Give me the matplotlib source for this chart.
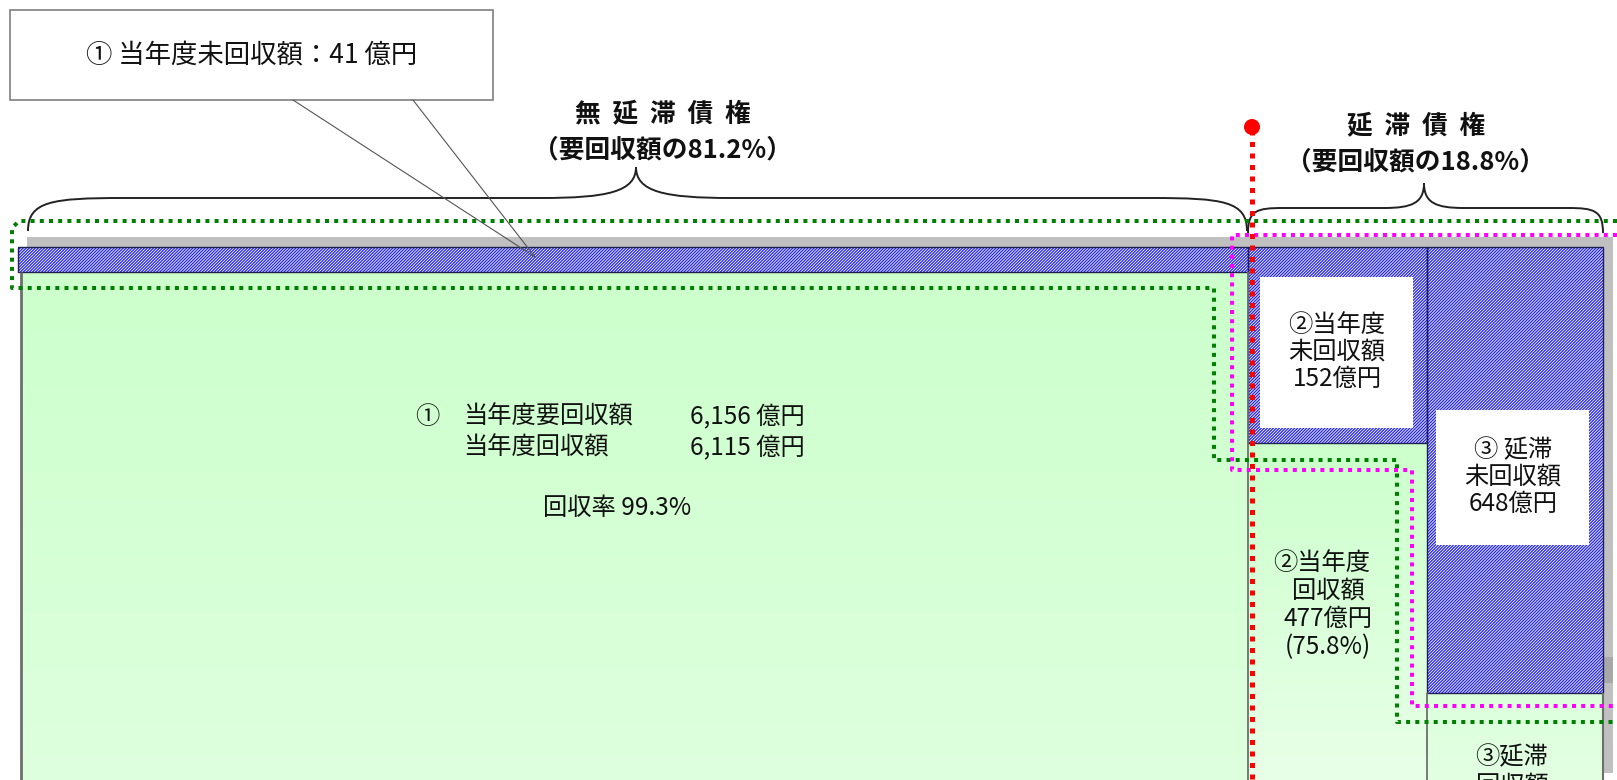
import numpy as np
import matplotlib
matplotlib.use("Agg")
import matplotlib.pyplot as plt
from matplotlib.patches import Rectangle, Circle, PathPatch, Polygon
from matplotlib.path import Path

plt.rcParams['font.family'] = ['Noto Sans CJK JP', 'DejaVu Sans']
plt.rcParams['hatch.linewidth'] = 0.6

# ---- values (億円, %) ----
section_names = ["無延滞債権", "延滞債権"]
section_shares = [81.2, 18.8]                 # share of amount due
current_due = [6156, None]                     # 当年度要回収額
current_collected = [6115, 477]                # 当年度回収額
current_uncollected = [41, 152]                # 当年度未回収額
current_rates = [99.3, 75.8]                   # 回収率
arrears_uncollected = [648]                    # 延滞 未回収額

# ---- colours ----
BLUE = '#2424f0'
GREEN_TOP = (204 / 255, 1.0, 204 / 255)
DOT_GREEN = '#008000'
MAGENTA = '#ff00ff'
RED = '#ff0000'
SHADOW = '#c0c0c0'
EDGE = '#6e6e6e'

W, H = 1617, 780
fig = plt.figure(figsize=(W / 100, H / 100), dpi=100)
ax = fig.add_axes([0, 0, 1, 1])
ax.set_axis_off()


def gradient_rect(x0, y0, x1, y1, c_top, c_bot, z=1):
    t = np.linspace(0, 1, 256)[:, None]
    rgb = (1 - t) * np.array(c_top) + t * np.array(c_bot)
    img = np.repeat(rgb[:, None, :], 2, axis=1)
    ax.imshow(img, extent=(x0, x1, y1, y0), aspect='auto',
              interpolation='bilinear', zorder=z)


def hatched(xy, z=3):
    ax.add_patch(Polygon(xy, closed=True, facecolor=BLUE, edgecolor='white',
                         hatch='/' * 11, linewidth=0, zorder=z))
    ax.add_patch(Polygon(xy, closed=True, fill=False, edgecolor='#202050',
                         linewidth=1.0, zorder=z + 0.1))


def brace(x0, x1, xm, y_end, y_h, y_apex, r_end, r_mid):
    verts = [(x0, y_end),
             (x0, y_h + (y_end - y_h) * 0.1), (x0 + r_end * 0.25, y_h), (x0 + r_end, y_h),
             (xm - r_mid, y_h),
             (xm - r_mid * 0.3, y_h), (xm, y_h - (y_h - y_apex) * 0.2), (xm, y_apex),
             (xm, y_h - (y_h - y_apex) * 0.2), (xm + r_mid * 0.3, y_h), (xm + r_mid, y_h),
             (x1 - r_end, y_h),
             (x1 - r_end * 0.25, y_h), (x1, y_h + (y_end - y_h) * 0.1), (x1, y_end)]
    codes = [Path.MOVETO,
             Path.CURVE4, Path.CURVE4, Path.CURVE4,
             Path.LINETO,
             Path.CURVE4, Path.CURVE4, Path.CURVE4,
             Path.CURVE4, Path.CURVE4, Path.CURVE4,
             Path.LINETO,
             Path.CURVE4, Path.CURVE4, Path.CURVE4]
    ax.add_patch(PathPatch(Path(verts, codes), fill=False, edgecolor='#222222',
                           linewidth=1.4, zorder=6))


def dotted(pts, color, lw_px, z):
    xs, ys = zip(*pts)
    ax.plot(xs, ys, color=color, lw=lw_px * 0.72, linestyle=(0, (1, 1.3)),
            dash_capstyle='butt', solid_joinstyle='miter', zorder=z)


# ---- layout (pixel positions) ----
X_LEFT, X_SPLIT, X_COL3, X_RIGHT = 21, 1248, 1427, 1603
Y_SHADOW, Y_BAR, Y_BAR_BOT = 237, 247, 272
Y_COL2_BOT, Y_COL3_BOT = 443, 693

# shadows
ax.add_patch(Rectangle((27, Y_SHADOW), 1613 - 27, Y_BAR - Y_SHADOW,
                       facecolor=SHADOW, edgecolor='none', zorder=2))
ax.add_patch(Rectangle((X_RIGHT, Y_SHADOW), 10, 773 - Y_SHADOW,
                       facecolor=SHADOW, edgecolor='none', zorder=2))
ax.add_patch(Rectangle((X_RIGHT, 657), 10, 26,
                       facecolor='#a8a8a8', edgecolor='none', zorder=2))

# collected amounts (green)
gradient_rect(X_LEFT, Y_BAR_BOT, X_SPLIT, H, GREEN_TOP, (0.87, 1.0, 0.87))
gradient_rect(X_SPLIT, Y_COL2_BOT, X_COL3, H, GREEN_TOP, (0.91, 1.0, 0.91))
gradient_rect(X_COL3, Y_COL3_BOT, X_RIGHT, H, (0.86, 1.0, 0.86), (0.89, 1.0, 0.89))

# uncollected amounts (hatched blue)
hatched([(18, Y_BAR), (X_SPLIT, Y_BAR), (X_SPLIT, Y_BAR_BOT), (18, Y_BAR_BOT)])
hatched([(X_SPLIT, Y_BAR), (X_COL3, Y_BAR), (X_COL3, Y_COL2_BOT), (X_SPLIT, Y_COL2_BOT)])
hatched([(X_COL3, Y_BAR), (X_RIGHT, Y_BAR), (X_RIGHT, Y_COL3_BOT), (X_COL3, Y_COL3_BOT)])

# label boxes
ax.add_patch(Rectangle((1260, 277), 1413 - 1260, 428 - 277,
                       facecolor='white', edgecolor='none', zorder=4))
ax.add_patch(Rectangle((1436, 410), 1589 - 1436, 545 - 410,
                       facecolor='white', edgecolor='none', zorder=4))

# column borders
for xs, ys, lw in [((X_LEFT, X_LEFT), (Y_BAR_BOT, H), 2.0),
                   ((X_SPLIT, X_SPLIT), (Y_BAR_BOT, H), 1.3),
                   ((X_COL3, X_COL3), (Y_COL3_BOT, H), 1.3),
                   ((X_RIGHT, X_RIGHT), (Y_COL3_BOT, H), 1.5)]:
    ax.plot(xs, ys, color=EDGE, lw=lw, zorder=5, solid_capstyle='butt')

# dotted outlines
dotted([(1617, 221), (19, 221), (12, 228), (12, 288), (1214, 288), (1214, 460),
        (1397, 460), (1397, 722), (1617, 722)], DOT_GREEN, 4, 7)
dotted([(1617, 235), (1232, 235), (1232, 470), (1412, 470), (1412, 706),
        (1617, 706)], MAGENTA, 4, 7)
dotted([(1252, 130), (1252, H)], RED, 5, 8)
ax.add_patch(Circle((1252, 127), 8, facecolor=RED, edgecolor='none', zorder=8))

# braces
brace(28, 1247, 636, 231, 198, 167, 95, 95)
brace(1248, 1603, 1424, 233, 208, 183, 35, 40)

# section titles
TITLE = dict(ha='center', va='center', fontsize=18.5, fontweight='bold', color='#111111', zorder=9)
ax.text(663, 114, "  ".join(section_names[0]), **TITLE)
ax.text(662, 150, f"（要回収額の{section_shares[0]}%）", **TITLE)
ax.text(1416, 126, "  ".join(section_names[1]), **TITLE)
ax.text(1415, 162, f"（要回収額の{section_shares[1]}%）", **TITLE)

BODY = dict(va='center', fontsize=17.5, color='#111111', zorder=9)

# non-overdue summary
ax.text(415, 417, "①", ha='left', **BODY)
ax.text(463, 417, "当年度要回収額", ha='left', **BODY)
ax.text(690, 417, f"{current_due[0]:,} 億円", ha='left', **BODY)
ax.text(463, 448, "当年度回収額", ha='left', **BODY)
ax.text(690, 448, f"{current_collected[0]:,} 億円", ha='left', **BODY)
ax.text(617, 508, f"回収率 {current_rates[0]}%", ha='center', **BODY)

# overdue: current-year uncollected
for i, s in enumerate(["②当年度", "未回収額", f"{current_uncollected[1]}億円"]):
    ax.text(1337, 325 + 27 * i, s, ha='center', **BODY)

# overdue: current-year collected
for i, s in enumerate(["②当年度", "回収額", f"{current_collected[1]}億円",
                       f"({current_rates[1]}%)"]):
    ax.text(1322 if i == 0 else 1328, 563 + 28 * i, s, ha='center', **BODY)

# overdue: arrears uncollected
for i, s in enumerate(["③ 延滞", "未回収額", f"{arrears_uncollected[0]}億円"]):
    ax.text(1513, 450 + 27 * i, s, ha='center', **BODY)

# overdue: arrears collected (continues below the frame)
ax.text(1512, 757, "③延滞", ha='center', **BODY)
ax.text(1512, 786, "回収額", ha='center', **BODY)

# callout for the non-overdue uncollected amount
ax.add_patch(Rectangle((10, 10), 483, 90, facecolor='white', edgecolor='#7f7f7f',
                       linewidth=1.2, zorder=10))
tip = (535, 257)
ax.plot([293, tip[0], 413], [100, tip[1], 100], color='#555555', lw=0.8, zorder=10)
ax.text(252, 55, f"① 当年度未回収額：{current_uncollected[0]} 億円", ha='center',
        va='center', fontsize=19, color='#111111', zorder=11)

ax.set_xlim(0, W)
ax.set_ylim(H, 0)
fig.savefig("out.png", dpi=100, facecolor='white')
